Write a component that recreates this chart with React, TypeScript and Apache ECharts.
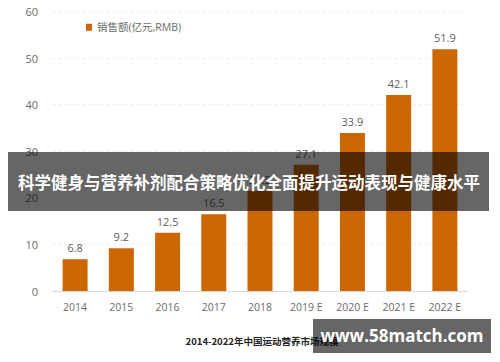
import React, { useEffect, useRef } from "react";
import * as echarts from "echarts";

const categories = ["2014", "2015", "2016", "2017", "2018", "2019 E", "2020 E", "2021 E", "2022 E"];
const salesValues = [6.8, 9.2, 12.5, 16.5, 21.5, 27.1, 33.9, 42.1, 51.9];
const seriesName = "销售额(亿元,RMB)";
const chartTitle = "2014-2022年中国运动营养市场规模";
const bannerText = "科学健身与营养补剂配合策略优化全面提升运动表现与健康水平";
const watermarkText = "www.58match.com";

export default function App() {
  const ref = useRef<HTMLDivElement>(null);
  useEffect(() => {
    if (!ref.current) return;
    const chart = echarts.init(ref.current, null, { renderer: "svg" });
    const labelFont = "'Open Sans', 'Noto Sans CJK SC', sans-serif";
    chart.setOption({
      animation: false,
      backgroundColor: "#ffffff",
      grid: { left: 52, right: 32, top: 11.5, bottom: 71, containLabel: false },
      legend: {
        show: true,
        left: 81,
        top: 17,
        itemWidth: 6,
        itemHeight: 7,
        itemGap: 4,
        icon: "rect",
        textStyle: { color: "#6b6b6b", fontSize: 10.5, fontFamily: labelFont },
        data: [seriesName],
      },
      xAxis: {
        type: "category",
        data: categories,
        axisLine: { lineStyle: { color: "#d9d9d9", width: 1 } },
        axisTick: { show: false },
        axisLabel: { color: "#6b6b6b", fontSize: 10.5, margin: 11, fontFamily: labelFont },
      },
      yAxis: {
        type: "value",
        min: 0,
        max: 60,
        interval: 10,
        axisLine: { show: false },
        axisTick: { show: false },
        splitLine: { show: true, lineStyle: { color: "#f3f3f3", type: "dashed" } },
        axisLabel: { color: "#6b6b6b", fontSize: 11, margin: 14, fontFamily: labelFont },
      },
      series: [
        {
          name: seriesName,
          type: "bar",
          data: salesValues,
          barWidth: "54%",
          itemStyle: { color: "#cc6600" },
          label: {
            show: true,
            position: "top",
            distance: 6,
            color: "#5f5f5f",
            fontSize: 11,
            fontFamily: labelFont,
          },
        },
      ],
      graphic: [
        {
          type: "text",
          x: 262,
          y: 341,
          style: {
            text: chartTitle,
            fill: "#222",
            font: "bold 9.5px 'Noto Sans CJK SC', sans-serif",
            align: "center",
            verticalAlign: "middle",
          },
          z: 10,
        },
        {
          type: "rect",
          shape: { x: 8, y: 152, width: 481, height: 59 },
          style: { fill: "rgba(0,0,0,0.6)" },
          z: 100,
        },
        {
          type: "text",
          x: 249,
          y: 182,
          style: {
            text: bannerText,
            fill: "#fff",
            font: "bold 16.5px 'Noto Sans CJK SC', sans-serif",
            align: "center",
            verticalAlign: "middle",
          },
          z: 101,
        },
        {
          type: "rect",
          shape: { x: 313, y: 319, width: 178, height: 34 },
          style: { fill: "rgba(0,0,0,0.6)" },
          z: 100,
        },
        {
          type: "text",
          x: 402,
          y: 335,
          style: {
            text: watermarkText,
            fill: "#fff",
            font: "bold 17px 'Open Sans', sans-serif",
            align: "center",
            verticalAlign: "middle",
          },
          z: 101,
        },
      ],
    });
    return () => chart.dispose();
  }, []);
  return (
    <div
      ref={ref}
      style={{ position: "fixed", left: 0, top: 0, width: 500, height: 362 }}
    />
  );
}
